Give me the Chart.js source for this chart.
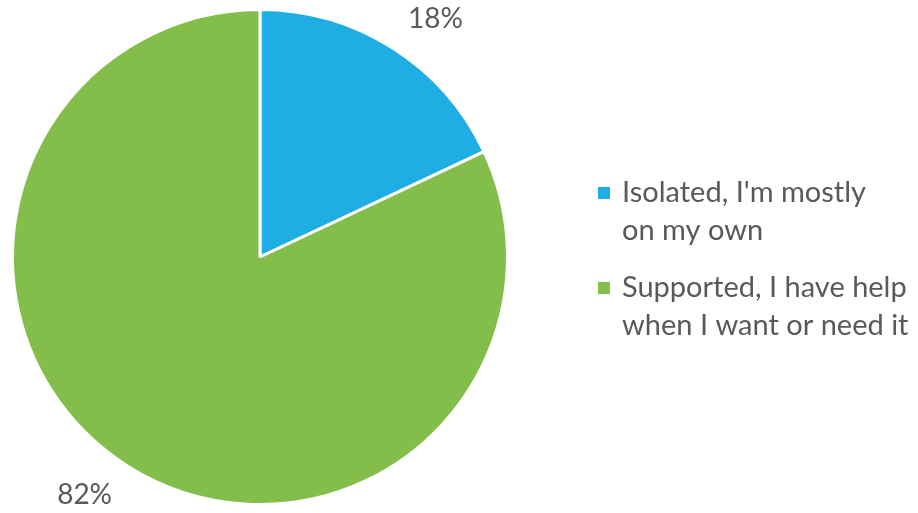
<!DOCTYPE html>
<html lang="en">
<head>
<meta charset="utf-8">
<script src="https://cdn.jsdelivr.net/npm/chart.js@4/dist/chart.umd.min.js"></script>
<style>
  html, body { margin: 0; padding: 0; background: #fff; }
  #wrap { width: 918px; height: 513px; }
</style>
</head>
<body>
<div id="wrap"><canvas id="pie-chart"></canvas></div>
<script>
// answers and their share of responses (%)
const categories = [
    ["Isolated, I'm mostly", "on my own"],
    ["Supported, I have help", "when I want or need it"]
];
const shares = [18, 82];
const sliceColors = ["#1FAEE3", "#83BE4A"];

const textColor = "#595959";
const fontFamily = "Lato, 'Open Sans', sans-serif";

// percent labels outside each slice, nudged round a little like the office chart
const outsideLabels = {
    id: 'outsideLabels',
    afterDatasetsDraw(chart) {
        const ctx = chart.ctx;
        const meta = chart.getDatasetMeta(0);
        ctx.save();
        ctx.fillStyle = textColor;
        ctx.font = "28px " + fontFamily;
        ctx.textAlign = 'center';
        ctx.textBaseline = 'middle';
        meta.data.forEach((arc, i) => {
            const a = (arc.startAngle + arc.endAngle) / 2 + 0.07;
            const d = arc.outerRadius + 48;
            const x = arc.x + Math.cos(a) * d;
            const y = arc.y + Math.sin(a) * d;
            ctx.fillText(shares[i] + '%', x, y);
        });
        ctx.restore();
    }
};

// legend on the right with wrapped labels
const sideLegend = {
    id: 'sideLegend',
    afterDraw(chart) {
        const ctx = chart.ctx;
        ctx.save();
        ctx.font = "29px " + fontFamily;
        ctx.textBaseline = 'middle';
        ctx.textAlign = 'left';
        let y = 193;
        categories.forEach((lines, i) => {
            ctx.fillStyle = sliceColors[i];
            ctx.fillRect(598, y - 6, 12, 12);
            ctx.fillStyle = textColor;
            lines.forEach((line, k) => {
                ctx.fillText(line, 622, y + k * 38);
            });
            y += 95;
        });
        ctx.restore();
    }
};

new Chart(document.getElementById("pie-chart"), {
    type: 'pie',
    data: {
        labels: categories.map(l => l.join(' ')),
        datasets: [{
            data: shares,
            backgroundColor: sliceColors,
            borderColor: '#ffffff',
            borderWidth: 3
        }]
    },
    options: {
        responsive: true,
        maintainAspectRatio: false,
        animation: false,
        layout: { padding: { left: 11, right: 409, top: 8, bottom: 7 } },
        plugins: {
            legend: { display: false },
            tooltip: { enabled: false }
        }
    },
    plugins: [outsideLabels, sideLegend]
});
</script>
</body>
</html>
